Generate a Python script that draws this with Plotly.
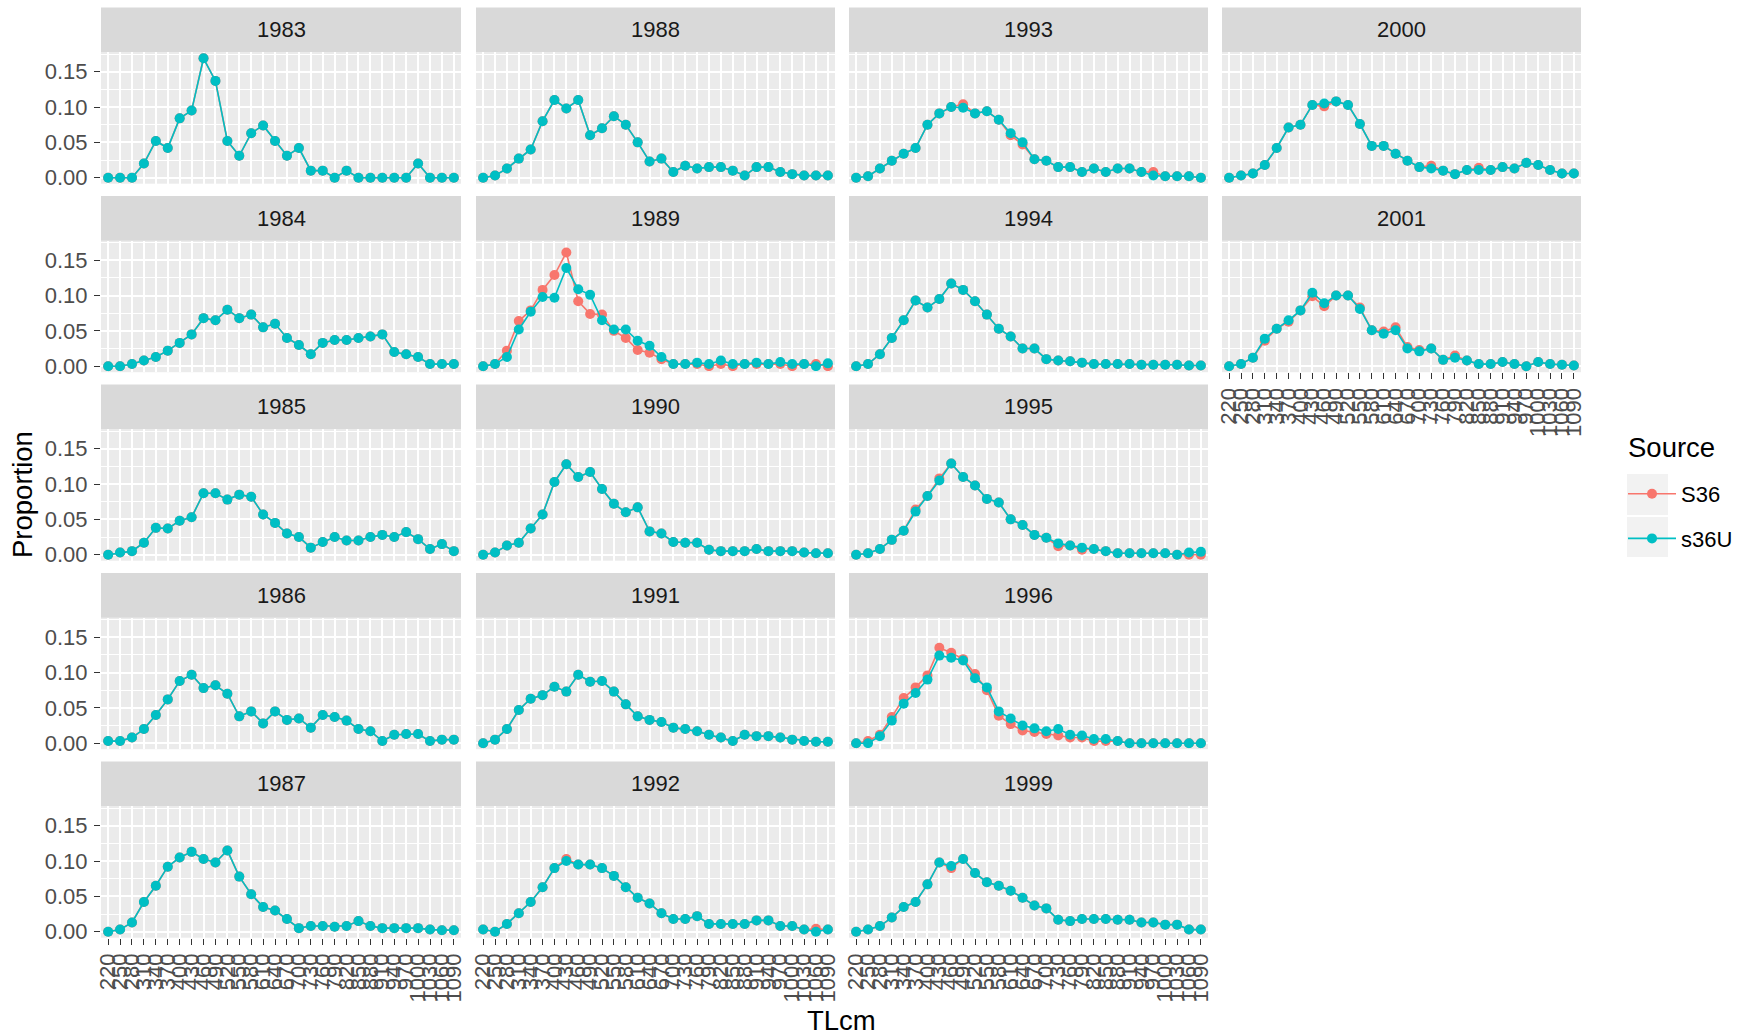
import plotly.graph_objects as go

W, H = 1748, 1035

TLcm = ["220", "250", "280", "310", "340", "370", "400", "430", "460", "490",
        "520", "550", "580", "610", "640", "670", "700", "730", "760", "790",
        "820", "850", "880", "910", "940", "970", "1000", "1030", "1060", "1090"]

years = ["1983", "1984", "1985", "1986", "1987",
         "1988", "1989", "1990", "1991", "1992",
         "1993", "1994", "1995", "1996", "1999",
         "2000", "2001"]

# ---- s36U series ----
s36U_1983 = [0, 0, 0, 0.020, 0.052, 0.042, 0.084, 0.095, 0.169, 0.137, 0.052, 0.031, 0.063, 0.074, 0.052,
             0.031, 0.042, 0.010, 0.010, 0, 0.010, 0, 0, 0, 0, 0, 0.020, 0, 0, 0]
s36U_1984 = [0, 0, 0.003, 0.008, 0.013, 0.022, 0.033, 0.045, 0.068, 0.065, 0.080, 0.068, 0.073, 0.055, 0.060,
             0.040, 0.030, 0.017, 0.033, 0.037, 0.037, 0.040, 0.042, 0.045, 0.020, 0.017, 0.013, 0.003, 0.003, 0.003]
s36U_1985 = [0, 0.003, 0.005, 0.017, 0.038, 0.037, 0.048, 0.053, 0.087, 0.087, 0.078, 0.085, 0.082, 0.057, 0.045,
             0.030, 0.025, 0.010, 0.018, 0.025, 0.020, 0.020, 0.025, 0.028, 0.025, 0.032, 0.022, 0.008, 0.015, 0.005]
s36U_1986 = [0.003, 0.003, 0.008, 0.020, 0.040, 0.062, 0.088, 0.097, 0.078, 0.082, 0.070, 0.038, 0.045, 0.028, 0.045,
             0.033, 0.035, 0.022, 0.040, 0.037, 0.032, 0.020, 0.017, 0.003, 0.012, 0.013, 0.013, 0.003, 0.005, 0.005]
s36U_1987 = [0, 0.003, 0.013, 0.042, 0.065, 0.092, 0.105, 0.113, 0.103, 0.098, 0.115, 0.078, 0.053, 0.035, 0.030,
             0.018, 0.005, 0.008, 0.008, 0.007, 0.008, 0.015, 0.008, 0.005, 0.005, 0.005, 0.005, 0.003, 0.002, 0.002]
s36U_1988 = [0, 0.003, 0.013, 0.027, 0.040, 0.080, 0.110, 0.098, 0.110, 0.060, 0.070, 0.087, 0.075, 0.050, 0.023,
             0.027, 0.008, 0.017, 0.013, 0.015, 0.015, 0.010, 0.003, 0.015, 0.015, 0.008, 0.005, 0.003, 0.003, 0.003]
s36U_1989 = [0, 0.003, 0.013, 0.052, 0.077, 0.098, 0.097, 0.139, 0.109, 0.101, 0.065, 0.052, 0.052, 0.036, 0.029,
             0.013, 0.003, 0.003, 0.005, 0.003, 0.008, 0.003, 0.003, 0.005, 0.003, 0.006, 0.003, 0.003, 0, 0.004]
s36U_1990 = [0, 0.003, 0.013, 0.017, 0.037, 0.057, 0.103, 0.128, 0.110, 0.117, 0.093, 0.072, 0.060, 0.067, 0.033,
             0.030, 0.018, 0.017, 0.017, 0.007, 0.005, 0.005, 0.005, 0.008, 0.005, 0.005, 0.005, 0.003, 0.002, 0.002]
s36U_1991 = [0, 0.005, 0.020, 0.047, 0.063, 0.068, 0.080, 0.073, 0.097, 0.087, 0.088, 0.073, 0.055, 0.038, 0.033,
             0.030, 0.022, 0.020, 0.017, 0.012, 0.008, 0.003, 0.012, 0.010, 0.010, 0.008, 0.005, 0.003, 0.002, 0.002]
s36U_1992 = [0.003, 0, 0.011, 0.026, 0.042, 0.063, 0.090, 0.100, 0.095, 0.095, 0.090, 0.079, 0.063, 0.048, 0.040,
             0.026, 0.018, 0.018, 0.022, 0.011, 0.011, 0.011, 0.011, 0.016, 0.016, 0.008, 0.008, 0.003, 0, 0.003]
s36U_1993 = [0, 0.002, 0.013, 0.024, 0.034, 0.042, 0.075, 0.091, 0.100, 0.099, 0.091, 0.094, 0.082, 0.063, 0.050,
             0.026, 0.024, 0.015, 0.015, 0.008, 0.013, 0.008, 0.013, 0.013, 0.008, 0.003, 0.002, 0.002, 0.002, 0]
s36U_1994 = [0, 0.003, 0.017, 0.040, 0.065, 0.093, 0.083, 0.095, 0.117, 0.108, 0.092, 0.073, 0.053, 0.042, 0.025,
             0.025, 0.010, 0.008, 0.007, 0.005, 0.003, 0.003, 0.003, 0.003, 0.002, 0.002, 0.002, 0.002, 0.001, 0.001]
s36U_1995 = [0, 0.002, 0.008, 0.021, 0.034, 0.061, 0.083, 0.105, 0.129, 0.110, 0.098, 0.079, 0.074, 0.050, 0.042,
             0.028, 0.024, 0.016, 0.013, 0.010, 0.008, 0.005, 0.002, 0.002, 0.002, 0.002, 0.002, 0, 0.003, 0.004]
s36U_1996 = [0, 0, 0.010, 0.032, 0.056, 0.071, 0.090, 0.124, 0.121, 0.117, 0.092, 0.079, 0.045, 0.035, 0.025,
             0.021, 0.017, 0.020, 0.012, 0.011, 0.006, 0.006, 0.003, 0, 0, 0, 0, 0, 0, 0]
s36U_1999 = [0, 0.003, 0.008, 0.020, 0.035, 0.042, 0.067, 0.098, 0.093, 0.103, 0.083, 0.070, 0.065, 0.058, 0.048,
             0.037, 0.033, 0.017, 0.015, 0.018, 0.018, 0.018, 0.017, 0.017, 0.013, 0.013, 0.010, 0.010, 0.003, 0.003]
s36U_2000 = [0, 0.003, 0.006, 0.018, 0.042, 0.071, 0.075, 0.103, 0.105, 0.108, 0.103, 0.076, 0.045, 0.045, 0.034,
             0.024, 0.015, 0.013, 0.010, 0.005, 0.011, 0.011, 0.011, 0.015, 0.013, 0.021, 0.018, 0.011, 0.006, 0.006]
s36U_2001 = [0, 0.003, 0.012, 0.039, 0.053, 0.065, 0.079, 0.104, 0.089, 0.100, 0.100, 0.081, 0.051, 0.046, 0.051,
             0.025, 0.021, 0.025, 0.009, 0.012, 0.008, 0.003, 0.003, 0.006, 0.003, 0, 0.006, 0.003, 0.002, 0.001]

# ---- S36 series ----
S36_1983 = [0, 0, 0, 0.020, 0.052, 0.042, 0.084, 0.095, 0.169, 0.137, 0.052, 0.031, 0.063, 0.074, 0.052,
            0.031, 0.042, 0.010, 0.010, 0, 0.010, 0, 0, 0, 0, 0, 0.020, 0, 0, 0]
S36_1984 = [0, 0, 0.003, 0.008, 0.013, 0.022, 0.033, 0.045, 0.068, 0.065, 0.080, 0.068, 0.073, 0.055, 0.060,
            0.040, 0.030, 0.017, 0.033, 0.037, 0.037, 0.040, 0.042, 0.045, 0.020, 0.017, 0.013, 0.003, 0.003, 0.003]
S36_1985 = [0, 0.003, 0.005, 0.017, 0.038, 0.037, 0.048, 0.053, 0.087, 0.087, 0.078, 0.085, 0.082, 0.057, 0.045,
            0.030, 0.025, 0.010, 0.018, 0.025, 0.020, 0.020, 0.025, 0.028, 0.025, 0.032, 0.022, 0.008, 0.015, 0.005]
S36_1986 = [0.003, 0.003, 0.008, 0.020, 0.040, 0.062, 0.088, 0.097, 0.078, 0.082, 0.070, 0.038, 0.045, 0.028, 0.045,
            0.033, 0.035, 0.022, 0.040, 0.037, 0.032, 0.020, 0.017, 0.003, 0.012, 0.013, 0.013, 0.003, 0.005, 0.005]
S36_1987 = [0, 0.003, 0.013, 0.042, 0.065, 0.092, 0.105, 0.113, 0.103, 0.098, 0.115, 0.078, 0.053, 0.035, 0.030,
            0.018, 0.005, 0.008, 0.008, 0.007, 0.008, 0.015, 0.008, 0.005, 0.005, 0.005, 0.005, 0.003, 0.002, 0.002]
S36_1988 = [0, 0.003, 0.013, 0.027, 0.040, 0.080, 0.110, 0.098, 0.110, 0.060, 0.070, 0.087, 0.075, 0.050, 0.023,
            0.027, 0.008, 0.017, 0.013, 0.015, 0.015, 0.010, 0.003, 0.015, 0.015, 0.008, 0.005, 0.003, 0.003, 0.003]
S36_1989 = [0, 0.003, 0.022, 0.064, 0.079, 0.108, 0.129, 0.161, 0.092, 0.074, 0.073, 0.050, 0.040, 0.023, 0.019,
            0.010, 0.003, 0.003, 0.003, 0, 0.003, 0, 0.003, 0.003, 0.003, 0.003, 0, 0.003, 0.003, 0]
S36_1990 = [0, 0.003, 0.013, 0.017, 0.037, 0.057, 0.103, 0.128, 0.110, 0.117, 0.093, 0.072, 0.060, 0.067, 0.033,
            0.030, 0.018, 0.017, 0.017, 0.007, 0.005, 0.005, 0.005, 0.008, 0.005, 0.005, 0.005, 0.003, 0.002, 0.002]
S36_1991 = [0, 0.005, 0.020, 0.047, 0.063, 0.068, 0.080, 0.073, 0.097, 0.087, 0.088, 0.073, 0.055, 0.038, 0.033,
            0.030, 0.022, 0.020, 0.017, 0.012, 0.008, 0.003, 0.012, 0.010, 0.010, 0.008, 0.005, 0.003, 0.002, 0.002]
S36_1992 = [0.003, 0, 0.011, 0.026, 0.042, 0.063, 0.090, 0.103, 0.095, 0.095, 0.090, 0.079, 0.063, 0.048, 0.040,
            0.026, 0.018, 0.018, 0.022, 0.011, 0.011, 0.011, 0.011, 0.016, 0.016, 0.008, 0.008, 0.003, 0.004, 0.003]
S36_1993 = [0, 0.002, 0.013, 0.024, 0.034, 0.042, 0.075, 0.091, 0.100, 0.104, 0.091, 0.094, 0.082, 0.060, 0.047,
            0.026, 0.024, 0.015, 0.015, 0.008, 0.013, 0.008, 0.013, 0.013, 0.008, 0.008, 0.002, 0.002, 0.002, 0]
S36_1994 = [0, 0.003, 0.017, 0.040, 0.065, 0.093, 0.083, 0.095, 0.117, 0.108, 0.092, 0.073, 0.053, 0.042, 0.025,
            0.025, 0.010, 0.008, 0.007, 0.005, 0.003, 0.003, 0.003, 0.003, 0.002, 0.002, 0.002, 0.002, 0.001, 0.001]
S36_1995 = [0, 0.002, 0.008, 0.021, 0.034, 0.064, 0.083, 0.108, 0.129, 0.110, 0.098, 0.079, 0.074, 0.050, 0.042,
            0.028, 0.024, 0.012, 0.013, 0.007, 0.008, 0.005, 0.002, 0.002, 0.002, 0.002, 0.002, 0, 0, 0]
S36_1996 = [0, 0.003, 0.012, 0.037, 0.064, 0.079, 0.096, 0.135, 0.128, 0.119, 0.098, 0.075, 0.039, 0.027, 0.018,
            0.016, 0.013, 0.011, 0.008, 0.008, 0.003, 0.003, 0.003, 0, 0, 0, 0, 0, 0, 0]
S36_1999 = [0, 0.003, 0.008, 0.020, 0.035, 0.042, 0.067, 0.098, 0.090, 0.103, 0.083, 0.070, 0.065, 0.058, 0.048,
            0.037, 0.033, 0.017, 0.015, 0.018, 0.018, 0.018, 0.017, 0.017, 0.013, 0.013, 0.010, 0.010, 0.003, 0.003]
S36_2000 = [0, 0.003, 0.006, 0.018, 0.042, 0.071, 0.075, 0.103, 0.101, 0.108, 0.103, 0.076, 0.045, 0.045, 0.034,
            0.024, 0.015, 0.017, 0.010, 0.005, 0.011, 0.014, 0.011, 0.015, 0.013, 0.021, 0.018, 0.011, 0.006, 0.006]
S36_2001 = [0, 0.003, 0.012, 0.036, 0.053, 0.063, 0.079, 0.099, 0.085, 0.100, 0.100, 0.083, 0.051, 0.049, 0.055,
            0.027, 0.023, 0.025, 0.009, 0.015, 0.008, 0.003, 0.003, 0.006, 0.003, 0, 0.006, 0.003, 0.002, 0.001]

s36U = {"1983": s36U_1983, "1984": s36U_1984, "1985": s36U_1985, "1986": s36U_1986, "1987": s36U_1987,
        "1988": s36U_1988, "1989": s36U_1989, "1990": s36U_1990, "1991": s36U_1991, "1992": s36U_1992,
        "1993": s36U_1993, "1994": s36U_1994, "1995": s36U_1995, "1996": s36U_1996, "1999": s36U_1999,
        "2000": s36U_2000, "2001": s36U_2001}
S36 = {"1983": S36_1983, "1984": S36_1984, "1985": S36_1985, "1986": S36_1986, "1987": S36_1987,
       "1988": S36_1988, "1989": S36_1989, "1990": S36_1990, "1991": S36_1991, "1992": S36_1992,
       "1993": S36_1993, "1994": S36_1994, "1995": S36_1995, "1996": S36_1996, "1999": S36_1999,
       "2000": S36_2000, "2001": S36_2001}

RED = "#F8766D"
TEAL = "#00BFC4"
FONT = "Liberation Sans, Arial, sans-serif"
TICK_SIZE = 22
TITLE_SIZE = 27.5

# facet geometry (pixels)
COLS = [(101, 461), (476, 835), (849, 1208), (1222, 1581)]
ROW0, ROW_PITCH, STRIP_H, PANEL_H = 7.5, 188.5, 44.8, 131.4
NROW = 5


def px(x):
    return x / W


def py(y):
    return 1 - y / H


fig = go.Figure()
shapes = []
annotations = []

for k, yr in enumerate(years):
    col, row = k // NROW, k % NROW
    x0, x1 = COLS[col]
    st = ROW0 + row * ROW_PITCH
    pt = st + STRIP_H
    pb = pt + PANEL_H
    ax = "" if k == 0 else str(k + 1)
    is_bottom = (row == NROW - 1) or (col == 3 and row == 1)
    is_left = col == 0

    for name, data, color in (("S36", S36[yr], RED), ("s36U", s36U[yr], TEAL)):
        fig.add_trace(go.Scatter(
            x=TLcm, y=data, mode="lines+markers", name=name,
            line=dict(color=color, width=1.6),
            marker=dict(color=color, size=10),
            xaxis="x" + ax, yaxis="y" + ax,
            showlegend=(k == 0), legendgroup=name,
        ))

    fig.layout["xaxis" + ax] = dict(
        domain=[px(x0), px(x1)], anchor="y" + ax,
        type="category", categoryarray=TLcm, categoryorder="array",
        range=[-0.6, len(TLcm) - 0.4],
        tickmode="array", tickvals=TLcm, ticktext=TLcm,
        showgrid=True, gridcolor="white", gridwidth=2.2,
        zeroline=False, showline=False,
        ticks="outside" if is_bottom else "", ticklen=6, tickwidth=1.4, tickcolor="#333333",
        showticklabels=is_bottom, tickangle=-90,
        tickfont=dict(family=FONT, size=TICK_SIZE, color="#4D4D4D"),
        automargin=False, fixedrange=True,
    )
    fig.layout["yaxis" + ax] = dict(
        domain=[py(pb), py(pt)], anchor="x" + ax,
        range=[-0.0085, 0.1775],
        tickmode="array", tickvals=[0, 0.05, 0.10, 0.15],
        ticktext=["0.00", "0.05", "0.10", "0.15"],
        showgrid=True, gridcolor="white", gridwidth=2.2,
        minor=dict(tickvals=[0.025, 0.075, 0.125, 0.175], showgrid=True,
                   gridcolor="white", gridwidth=1.1, ticks=""),
        zeroline=False, showline=False,
        ticks="outside" if is_left else "", ticklen=6, tickwidth=1.4, tickcolor="#333333",
        showticklabels=is_left, ticklabelstandoff=2,
        tickfont=dict(family=FONT, size=TICK_SIZE, color="#4D4D4D"),
        automargin=False, fixedrange=True,
    )

    shapes.append(dict(type="rect", xref="paper", yref="paper",
                       x0=px(x0), x1=px(x1), y0=py(pt), y1=py(st),
                       fillcolor="#D9D9D9", line=dict(width=0), layer="below"))
    annotations.append(dict(text=yr, xref="paper", yref="paper",
                            x=px((x0 + x1) / 2), y=py((st + pt) / 2),
                            xanchor="center", yanchor="middle", showarrow=False,
                            font=dict(family=FONT, size=TICK_SIZE, color="#1A1A1A")))

# legend key backgrounds
for ky0, ky1 in ((474, 515), (517, 557)):
    shapes.append(dict(type="rect", xref="paper", yref="paper",
                       x0=px(1627), x1=px(1668), y0=py(ky1), y1=py(ky0),
                       fillcolor="#F2F2F2", line=dict(width=0), layer="below"))

annotations.append(dict(text="Source", xref="paper", yref="paper",
                        x=px(1626), y=py(448), showarrow=False,
                        xanchor="left", yanchor="middle",
                        font=dict(family=FONT, size=TITLE_SIZE, color="#000000")))
annotations.append(dict(text="Proportion", xref="paper", yref="paper",
                        x=px(22), y=py(495), textangle=-90, showarrow=False,
                        xanchor="center", yanchor="middle",
                        font=dict(family=FONT, size=TITLE_SIZE, color="#000000")))
annotations.append(dict(text="TLcm", xref="paper", yref="paper",
                        x=px(841), y=py(1020), showarrow=False,
                        xanchor="center", yanchor="middle",
                        font=dict(family=FONT, size=TITLE_SIZE, color="#000000")))

fig.update_layout(
    width=W, height=H, autosize=False,
    margin=dict(l=0, r=0, t=0, b=0, pad=0),
    paper_bgcolor="white", plot_bgcolor="#EBEBEB",
    shapes=shapes, annotations=annotations,
    showlegend=True,
    legend=dict(x=px(1623), y=py(473), xanchor="left", yanchor="top",
                bgcolor="rgba(0,0,0,0)", borderwidth=0,
                font=dict(family=FONT, size=TICK_SIZE, color="#000000"),
                tracegroupgap=13, itemwidth=48),
    font=dict(family=FONT),
)

fig.write_html("out.html", config={"displayModeBar": False},
               post_script="document.body.style.margin='0px';")
